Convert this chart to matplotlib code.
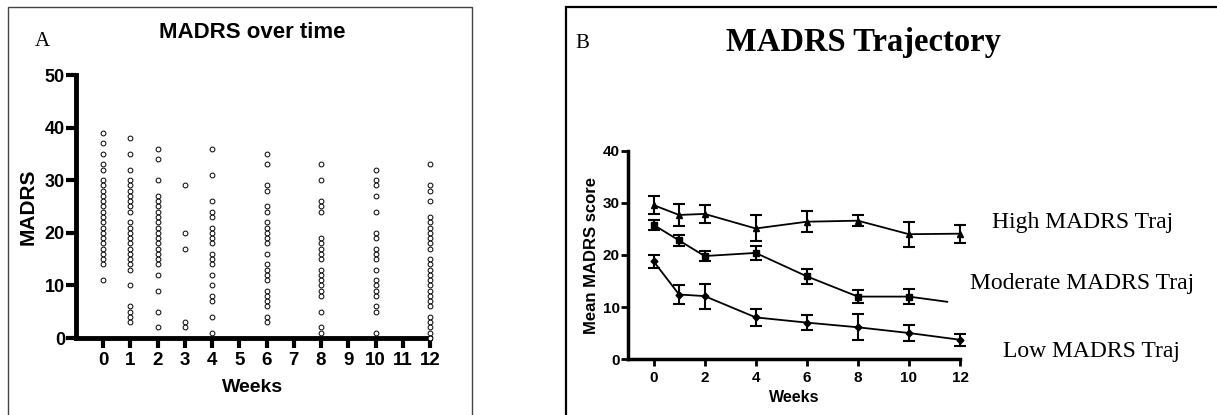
import matplotlib
matplotlib.use("Agg")
import matplotlib.pyplot as plt
from matplotlib.patches import Rectangle

# ---- Panel A: individual MADRS scores by week ----
scatter_weeks = [0, 1, 2, 3, 4, 6, 8, 10, 12]
scores_w0 = [39, 37, 35, 33, 32, 30, 29, 28, 27, 26, 25, 24, 23, 22, 21, 20, 19, 18, 17, 16, 15, 14, 11]
scores_w1 = [38, 35, 32, 30, 29, 28, 27, 26, 25, 24, 22, 21, 20, 19, 18, 17, 16, 15, 14, 13, 10, 6, 5, 4, 3]
scores_w2 = [36, 34, 30, 27, 26, 25, 24, 23, 22, 21, 20, 19, 18, 17, 16, 15, 14, 12, 9, 5, 2]
scores_w3 = [29, 20, 17, 3, 2]
scores_w4 = [36, 31, 26, 24, 23, 21, 20, 19, 18, 16, 15, 14, 12, 10, 8, 7, 4, 1]
scores_w6 = [35, 33, 29, 28, 25, 24, 22, 21, 20, 19, 18, 16, 14, 13, 12, 11, 9, 8, 7, 6, 4, 3]
scores_w8 = [33, 30, 26, 25, 24, 19, 18, 17, 16, 15, 13, 12, 11, 10, 9, 8, 5, 2, 1]
scores_w10 = [32, 30, 29, 27, 24, 20, 19, 17, 16, 15, 13, 11, 10, 9, 8, 6, 5, 1]
scores_w12 = [33, 29, 28, 26, 23, 22, 21, 20, 19, 18, 17, 15, 14, 13, 12, 11, 10, 9, 8,
              7, 6, 4, 3, 2, 1, 0]
scores_by_week = [scores_w0, scores_w1, scores_w2, scores_w3, scores_w4,
                  scores_w6, scores_w8, scores_w10, scores_w12]
a_xticks = list(range(0, 13))
a_yticks = [0, 10, 20, 30, 40, 50]

# ---- Panel B: trajectory group means with error bars ----
traj_weeks = [0, 1, 2, 4, 6, 8, 10, 12]
high_mean = [29.6, 27.7, 27.9, 25.1, 26.4, 26.6, 24.0, 24.1]
high_err = [1.8, 2.1, 1.8, 2.5, 2.0, 1.1, 2.4, 1.7]
mod_weeks = [0, 1, 2, 4, 6, 8, 10]
mod_mean = [25.8, 22.8, 19.8, 20.4, 15.9, 12.0, 12.0]
mod_err = [0.95, 1.0, 1.05, 1.4, 1.4, 1.3, 1.5]
mod_tail_weeks = [10, 11.5]
mod_tail_vals = [12.0, 11.0]
low_mean = [18.8, 12.4, 12.1, 8.0, 7.0, 6.1, 5.0, 3.7]
low_err = [1.25, 1.75, 2.4, 1.6, 1.4, 2.5, 1.6, 1.2]
b_xticks = [0, 2, 4, 6, 8, 10, 12]
b_yticks = [0, 10, 20, 30, 40]
traj_labels = ["High MADRS Traj", "Moderate MADRS Traj", "Low MADRS Traj"]

W, H = 1217, 415
fig = plt.figure(figsize=(W / 100, H / 100), dpi=100)
fig.patch.set_facecolor("white")

sans = ["Liberation Sans", "DejaVu Sans"]
serif = ["Liberation Serif", "DejaVu Serif"]

# panel frames
fig.patches.append(Rectangle((8 / W, -0.2), (472 - 8) / W, 1.2 - 7 / H,
                             transform=fig.transFigure, fill=False,
                             edgecolor="#444444", linewidth=1.0))
fig.patches.append(Rectangle((566 / W, -0.2), 1.0, 1.2 - 7 / H,
                             transform=fig.transFigure, fill=False,
                             edgecolor="black", linewidth=1.6))


def style_axes(ax, spine_w, tick_len, tick_w):
    for s in ("top", "right"):
        ax.spines[s].set_visible(False)
    for s in ("left", "bottom"):
        ax.spines[s].set_linewidth(spine_w)
        ax.spines[s].set_color("black")
    ax.tick_params(axis="both", direction="out", length=tick_len, width=tick_w,
                   colors="black")


# ---- Panel A ----
axA = fig.add_axes([76 / W, 1 - 338 / H, (430 - 76) / W, (338 - 75) / H])
for wk, vals in zip(scatter_weeks, scores_by_week):
    axA.scatter([wk] * len(vals), vals, s=12, facecolors="white",
                edgecolors="black", linewidths=0.7, clip_on=False, zorder=3)
axA.set_xlim(-1, 12)
axA.set_ylim(0, 50)
axA.set_xticks(a_xticks)
axA.set_yticks(a_yticks)
style_axes(axA, 3.5, 7, 3)
axA.set_xticklabels([str(t) for t in a_xticks], fontfamily=sans,
                    fontweight="bold", fontsize=13.5)
axA.set_yticklabels([str(t) for t in a_yticks], fontfamily=sans,
                    fontweight="bold", fontsize=13)
axA.tick_params(axis="y", pad=1)
axA.tick_params(axis="x", pad=3)
axA.set_xlabel("Weeks", fontfamily=sans, fontweight="bold", fontsize=14,
               labelpad=7)
axA.set_ylabel("MADRS", fontfamily=sans, fontweight="bold", fontsize=15,
               labelpad=5)
fig.text(252 / W, 1 - 33 / H, "MADRS over time", ha="center", va="center",
         fontfamily=sans, fontweight="bold", fontsize=16)
fig.text(35 / W, 1 - 42 / H, "A", ha="left", va="center",
         fontfamily=serif, fontsize=15)

# ---- Panel B ----
axB = fig.add_axes([628 / W, 1 - 359 / H, (960 - 628) / W, (359 - 151) / H])
eb_kw = dict(color="black", linewidth=1.3, elinewidth=1.5, capsize=4,
             capthick=1.5, markersize=4.5, clip_on=False, zorder=3)
axB.errorbar(traj_weeks, high_mean, yerr=high_err, marker="^", **eb_kw)
axB.errorbar(mod_weeks, mod_mean, yerr=mod_err, marker="s", **eb_kw)
axB.plot(mod_tail_weeks, mod_tail_vals, color="black", linewidth=1.3)
axB.errorbar(traj_weeks, low_mean, yerr=low_err, marker="D",
             **{**eb_kw, "markersize": 3.5})
axB.set_xlim(-1, 12)
axB.set_ylim(0, 40)
axB.set_xticks(b_xticks)
axB.set_yticks(b_yticks)
style_axes(axB, 2.5, 5, 2)
axB.set_xticklabels([str(t) for t in b_xticks], fontfamily=sans,
                    fontweight="bold", fontsize=11)
axB.set_yticklabels([str(t) for t in b_yticks], fontfamily=sans,
                    fontweight="bold", fontsize=11)
axB.tick_params(axis="y", pad=1)
axB.set_xlabel("Weeks", fontfamily=sans, fontweight="bold", fontsize=11.5,
               labelpad=4)
axB.set_ylabel("Mean MADRS score", fontfamily=sans, fontweight="bold",
               fontsize=12, labelpad=3)

fig.text(863 / W, 1 - 42 / H, "MADRS Trajectory", ha="center", va="center",
         fontfamily=serif, fontweight="bold", fontsize=23.5)
fig.text(575 / W, 1 - 44 / H, "B", ha="left", va="center",
         fontfamily=serif, fontsize=15)

label_pos = [(1083, 222), (1082, 283), (1091, 351)]
for text, (px, py) in zip(traj_labels, label_pos):
    fig.text(px / W, 1 - py / H, text, ha="center", va="center",
             fontfamily=serif, fontsize=17)

fig.savefig("out.png", dpi=100, facecolor="white")
